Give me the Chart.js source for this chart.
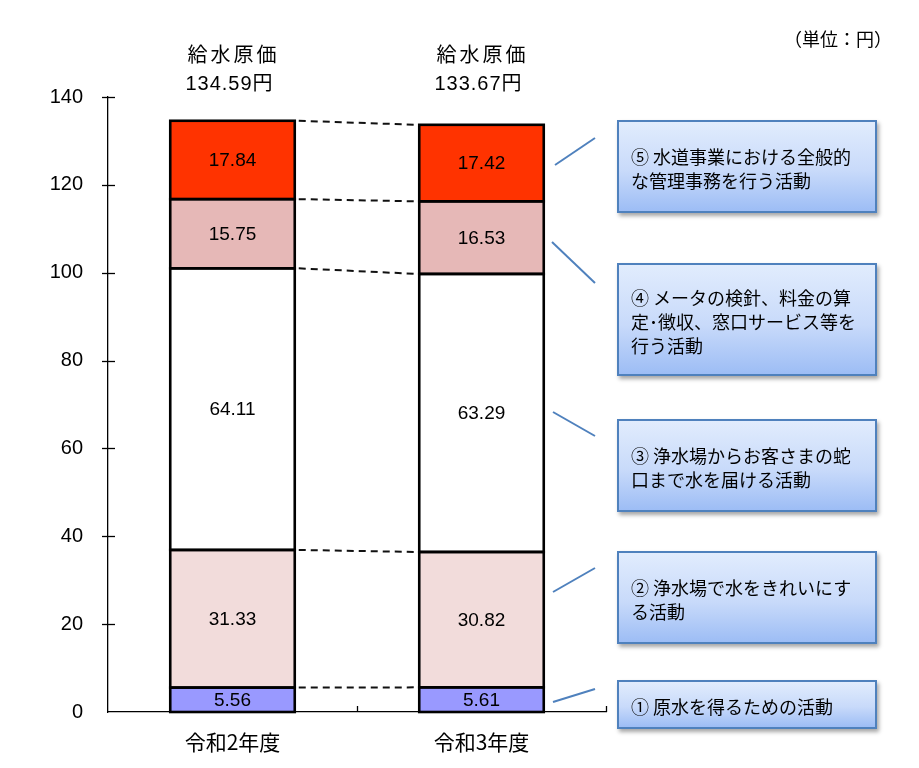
<!DOCTYPE html>
<html>
<head>
<meta charset="utf-8">
<script src="https://cdn.jsdelivr.net/npm/chart.js@4/dist/chart.umd.min.js"></script>
<style>
  html, body { margin: 0; padding: 0; background: #fff; }
  #wrap { position: relative; width: 919px; height: 768px; overflow: hidden; }
  canvas { position: absolute; left: 0; top: 0; }
  .box {
    position: absolute; left: 617px; width: 260px; box-sizing: border-box;
    border: 2.5px solid #4F81BD;
    background: linear-gradient(to bottom, #e1ecfd 0%, #c8dafa 55%, #9dbdf5 100%);
    box-shadow: 2px 3px 4px rgba(0,0,0,0.35);
    font-family: "Noto Sans CJK JP", sans-serif; font-size: 18px; line-height: 24px;
    color: #000; padding: 3px 0 0 12px; white-space: nowrap;
    display: flex; align-items: center;
  }
  #unit { position: absolute; left: 784px; top: 25px; font-family: "Noto Sans CJK JP", sans-serif; font-size: 18px; color: #000; white-space: nowrap; }
  svg { position: absolute; left: 0; top: 0; }
</style>
</head>
<body>
<div id="wrap">
  <canvas id="c" width="919" height="768"></canvas>
  <svg width="919" height="768" id="conn"></svg>
  <div id="unit">（単位：円）</div>
</div>
<script>
// ---- data ----
const categories = ['令和2年度', '令和3年度'];
const seriesNames = ['① 原水を得るための活動', '② 浄水場で水をきれいにする活動', '③ 浄水場からお客さまの蛇口まで水を届ける活動', '④ メータの検針、料金の算定・徴収、窓口サービス等を行う活動', '⑤ 水道事業における全般的な管理事務を行う活動'];
const s1 = [5.56, 5.61];
const s2 = [31.33, 30.82];
const s3 = [64.11, 63.29];
const s4 = [15.75, 16.53];
const s5 = [17.84, 17.42];
const yTicks = [0, 20, 40, 60, 80, 100, 120, 140];
const titleText = '給水原価';

// ---- callouts (decoration) ----
const callouts = [
  { lines: ['⑤ 水道事業における全般的', 'な管理事務を行う活動'], top: 120, h: 93, line: [555,165,595,138] },
  { lines: ['④ メータの検針、料金の算', '定･徴収、窓口サービス等を', '行う活動'], top: 263, h: 113, line: [552,242,595,283] },
  { lines: ['③ 浄水場からお客さまの蛇', '口まで水を届ける活動'], top: 419, h: 93, line: [553,412,595,436] },
  { lines: ['② 浄水場で水をきれいにす', 'る活動'], top: 551, h: 93, line: [553,592,595,568] },
  { lines: ['① 原水を得るための活動'], top: 680, h: 49, line: [553,702,595,689] }
];
const wrap = document.getElementById('wrap');
const svg = document.getElementById('conn');
callouts.forEach(c => {
  const d = document.createElement('div');
  d.className = 'box';
  d.style.top = c.top + 'px';
  d.style.height = c.h + 'px';
  const inner = document.createElement('div');
  inner.innerHTML = c.lines.join('<br>');
  d.appendChild(inner);
  wrap.appendChild(d);
  const l = document.createElementNS('http://www.w3.org/2000/svg', 'line');
  l.setAttribute('x1', c.line[0]); l.setAttribute('y1', c.line[1]);
  l.setAttribute('x2', c.line[2]); l.setAttribute('y2', c.line[3]);
  l.setAttribute('stroke', '#4F81BD'); l.setAttribute('stroke-width', '2');
  svg.appendChild(l);
});

const colors = ['#9999FF', '#F2DCDB', '#FFFFFF', '#E6B8B7', '#FF3300'];
const seriesData = [s1, s2, s3, s4, s5];

const decor = {
  id: 'decor',
  afterDatasetsDraw(chart) {
    const ctx = chart.ctx;
    const xs = chart.scales.x, ys = chart.scales.y;
    const area = chart.chartArea;
    ctx.save();
    // bar outlines (single shared borders)
    ctx.strokeStyle = '#000'; ctx.lineWidth = 2.6;
    for (let d = 0; d < seriesData.length; d++) {
      chart.getDatasetMeta(d).data.forEach(el => {
        ctx.strokeRect(el.x - el.width / 2, el.y, el.width, el.base - el.y);
      });
    }
    // y ticks crossing axis
    ctx.lineWidth = 1.3;
    yTicks.forEach(v => {
      const y = Math.round(ys.getPixelForValue(v)) + 0.5;
      if (v === 0) return;
      ctx.beginPath(); ctx.moveTo(area.left - 6, y); ctx.lineTo(area.left + 7, y); ctx.stroke();
    });
    // x ticks between categories (pointing up)
    for (let i = 1; i <= categories.length; i++) {
      const x = (i < categories.length)
        ? (xs.getPixelForValue(i - 1) + xs.getPixelForValue(i)) / 2
        : area.right;
      ctx.beginPath(); ctx.moveTo(Math.round(x) + 0.5, area.bottom); ctx.lineTo(Math.round(x) + 0.5, area.bottom - 6); ctx.stroke();
    }
    // dashed connector lines between bars
    ctx.strokeStyle = '#111'; ctx.lineWidth = 2; ctx.setLineDash([7, 5]);
    for (let d = 0; d < seriesData.length; d++) {
      const meta = chart.getDatasetMeta(d);
      const a = meta.data[0], b = meta.data[1];
      ctx.beginPath();
      ctx.moveTo(a.x + a.width / 2 + 4, a.y);
      ctx.lineTo(b.x - b.width / 2 - 2, b.y);
      ctx.stroke();
    }
    ctx.setLineDash([]);
    // value labels
    ctx.fillStyle = '#000';
    ctx.font = '19px "Liberation Sans", Arial, sans-serif';
    ctx.textAlign = 'center'; ctx.textBaseline = 'middle';
    for (let d = 0; d < seriesData.length; d++) {
      const meta = chart.getDatasetMeta(d);
      meta.data.forEach((el, j) => {
        ctx.fillText(seriesData[d][j].toFixed(2), el.x, (el.y + el.base) / 2 + 1);
      });
    }
    // titles above bars
    const top = chart.getDatasetMeta(seriesData.length - 1);
    top.data.forEach((el, j) => {
      const total = seriesData.reduce((s, arr) => s + arr[j], 0);
      ctx.font = '20px "Noto Sans CJK JP", sans-serif';
      ctx.letterSpacing = '3px';
      ctx.fillText(titleText, el.x + 1, 54);
      ctx.letterSpacing = '1px';
      ctx.font = '20px "Liberation Sans", "Noto Sans CJK JP", sans-serif';
      ctx.fillText(total.toFixed(2) + '円', el.x - 3, 84);
      ctx.letterSpacing = '0px';
    });
    ctx.restore();
  }
};

new Chart(document.getElementById('c'), {
  type: 'bar',
  data: {
    labels: categories,
    datasets: seriesData.map((arr, i) => ({
      label: seriesNames[i],
      data: arr,
      backgroundColor: colors[i],
      borderWidth: 0,
      categoryPercentage: 1,
      barPercentage: 0.5
    }))
  },
  options: {
    responsive: false,
    animation: false,
    layout: { padding: { top: 97, right: 313, left: 0, bottom: 0 } },
    plugins: { legend: { display: false }, tooltip: { enabled: false } },
    scales: {
      x: {
        stacked: true,
        grid: { display: false, drawTicks: false },
        border: { display: true, color: '#000', width: 1.3 },
        ticks: { color: '#000', padding: 17, font: { family: '"Noto Sans CJK JP", sans-serif', size: 21 } },
        afterFit(s) { s.height = 56; }
      },
      y: {
        stacked: true,
        min: 0, max: 140,
        afterBuildTicks(s) { s.ticks = yTicks.map(v => ({ value: v })); },
        grid: { display: false, drawTicks: false },
        border: { display: true, color: '#000', width: 1.3 },
        ticks: { color: '#000', padding: 25, font: { family: '"Liberation Sans", Arial, sans-serif', size: 20 } },
        afterFit(s) { s.width = 108; }
      }
    }
  },
  plugins: [decor]
});
</script>
</body>
</html>
